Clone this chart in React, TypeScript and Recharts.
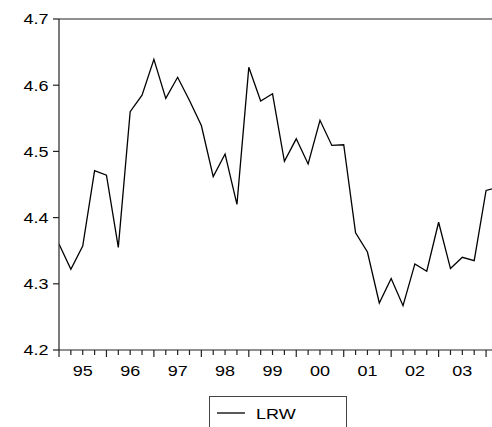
import React from 'react';
import { LineChart, Line, XAxis, YAxis, ReferenceLine } from 'recharts';

const quarters = [
  '1995Q1', '1995Q2', '1995Q3', '1995Q4',
  '1996Q1', '1996Q2', '1996Q3', '1996Q4',
  '1997Q1', '1997Q2', '1997Q3', '1997Q4',
  '1998Q1', '1998Q2', '1998Q3', '1998Q4',
  '1999Q1', '1999Q2', '1999Q3', '1999Q4',
  '2000Q1', '2000Q2', '2000Q3', '2000Q4',
  '2001Q1', '2001Q2', '2001Q3', '2001Q4',
  '2002Q1', '2002Q2', '2002Q3', '2002Q4',
  '2003Q1', '2003Q2', '2003Q3', '2003Q4',
  '2004Q1', '2004Q2',
];

const lrw = [
  4.360, 4.322, 4.357, 4.471,
  4.464, 4.355, 4.560, 4.585,
  4.639, 4.580, 4.612, 4.577,
  4.539, 4.462, 4.496, 4.420,
  4.627, 4.576, 4.587, 4.485,
  4.519, 4.481, 4.547, 4.509,
  4.510, 4.377, 4.348, 4.271,
  4.308, 4.267, 4.330, 4.319,
  4.393, 4.323, 4.340, 4.335,
  4.441, 4.446,
];

const yearLabels = ['95', '96', '97', '98', '99', '00', '01', '02', '03'];
const yTicks = [4.2, 4.3, 4.4, 4.5, 4.6, 4.7];

const data = quarters.map((q, i) => ({ i, q, lrw: lrw[i] }));
const xTicks = quarters.slice(0, 37).map((_, i) => i);

const FONT = '"Liberation Sans", Arial, sans-serif';
const AXIS = '#222';

const XTick = (props: any) => {
  const { x, y, payload } = props;
  const v = payload.value as number;
  const major = v % 4 === 0;
  const yearIdx = Math.floor(v / 4);
  const showLabel = v % 4 === 2 && yearIdx < yearLabels.length;
  return (
    <g>
      <line x1={x} x2={x} y1={y} y2={y + (major ? 7 : 5)} stroke={AXIS} strokeWidth={1.2} />
      {showLabel && (
        <text
          transform={`translate(${x},${y + 25.5}) scale(1.2,1)`}
          textAnchor="middle"
          fontFamily={FONT}
          fontSize={15}
          fill="#000"
        >
          {yearLabels[yearIdx]}
        </text>
      )}
    </g>
  );
};

const YTick = (props: any) => {
  const { x, y, payload } = props;
  return (
    <g>
      <line x1={x - 6} x2={x} y1={y} y2={y} stroke={AXIS} strokeWidth={1.2} />
      <text
        transform={`translate(${x - 10.5},${y + 5.3}) scale(1.2,1)`}
        textAnchor="end"
        fontFamily={FONT}
        fontSize={15}
        fill="#000"
      >
        {payload.value.toFixed(1)}
      </text>
    </g>
  );
};

export default function App() {
  return (
    <div style={{ position: 'absolute', left: 0, top: 0, width: 492, height: 427, overflow: 'hidden', background: '#fff' }}>
      <LineChart width={492} height={427} data={data} margin={{ top: 19, right: 0, left: 0, bottom: 0 }}>
        <XAxis
          dataKey="i"
          type="number"
          domain={[0, 36.5]}
          allowDataOverflow
          ticks={xTicks}
          interval={0}
          tick={<XTick />}
          tickLine={false}
          tickSize={0}
          tickMargin={0}
          height={77}
          axisLine={{ stroke: AXIS, strokeWidth: 1.2 }}
        />
        <YAxis
          type="number"
          domain={[4.2, 4.7]}
          allowDataOverflow
          ticks={yTicks}
          interval={0}
          tick={<YTick />}
          tickLine={false}
          tickSize={0}
          tickMargin={0}
          width={59}
          axisLine={{ stroke: AXIS, strokeWidth: 1.2 }}
        />
        <ReferenceLine y={4.7} stroke={AXIS} strokeWidth={1.2} />
        <Line
          type="linear"
          dataKey="lrw"
          name="LRW"
          stroke="#000"
          strokeWidth={1.3}
          dot={false}
          isAnimationActive={false}
        />
      </LineChart>
      <div
        style={{
          position: 'absolute',
          left: 209,
          top: 396,
          width: 138,
          height: 45,
          border: '1px solid #444',
          boxSizing: 'border-box',
          background: '#fff',
        }}
      >
        <svg width={138} height={45} style={{ position: 'absolute', left: -1, top: -1 }}>
          <line x1={8} x2={36} y1={17} y2={17} stroke="#000" strokeWidth={1.3} />
          <text
            transform="translate(47,22.5) scale(1.2,1)"
            fontFamily={FONT}
            fontSize={15}
            fill="#000"
          >
            LRW
          </text>
        </svg>
      </div>
    </div>
  );
}
